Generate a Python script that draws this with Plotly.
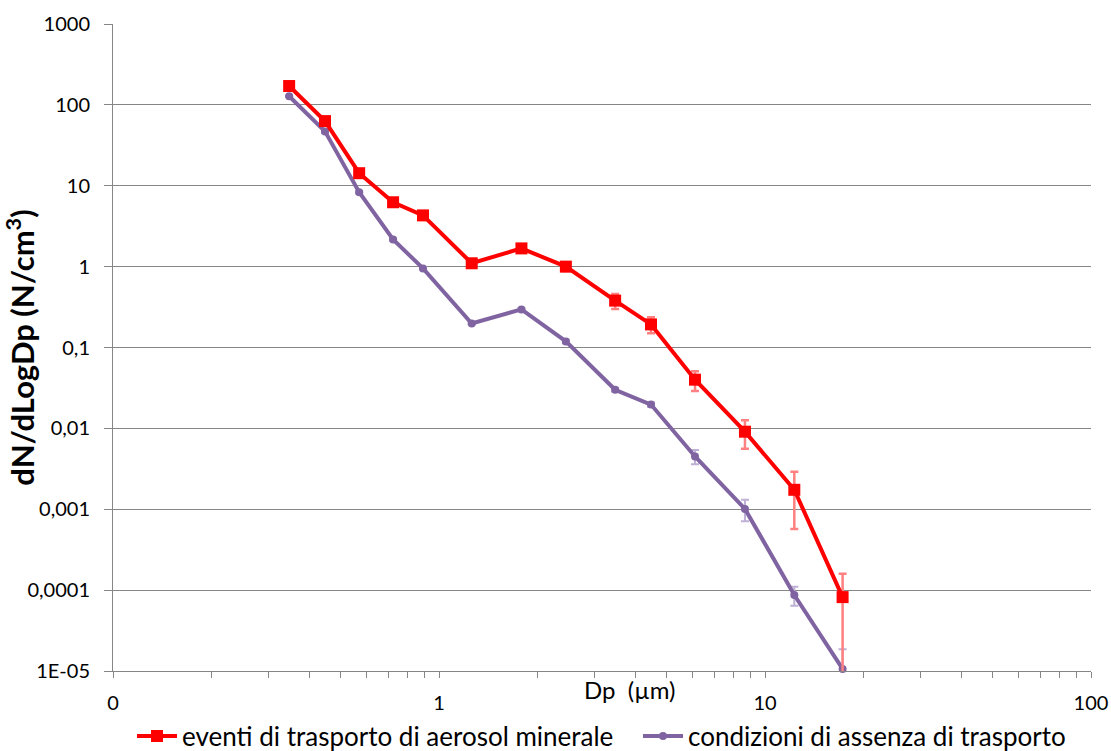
import plotly.graph_objects as go

dp = [0.347, 0.447, 0.569, 0.723, 0.893, 1.26, 1.79, 2.45, 3.47, 4.47, 6.1, 8.68, 12.3, 17.3]
eventi = [171, 63, 14.3, 6.25, 4.3, 1.1, 1.68, 1.0, 0.38, 0.193, 0.040, 0.0091, 0.00174, 0.000082]
eventi_err = [4, 2, 0.4, 0.2, 0.15, 0.04, 0.08, 0.12, 0.08, 0.043, 0.011, 0.0035, 0.00117, 0.000077]
assenza = [128, 47, 8.3, 2.17, 0.95, 0.198, 0.296, 0.119, 0.030, 0.0197, 0.0045, 0.00101, 0.000087, 0.0000106]
assenza_err = [3, 2, 0.3, 0.08, 0.03, 0.006, 0.01, 0.006, 0.0015, 0.0012, 0.0009, 0.0003, 0.000023, 0.000008]

name_red = "eventi di trasporto di aerosol minerale"
name_purple = "condizioni di assenza di trasporto"

y_tickvals = [1e-5, 1e-4, 1e-3, 1e-2, 1e-1, 1, 10, 100, 1000]
y_ticktext = ["1E-05", "0,0001", "0,001", "0,01", "0,1", "1", "10", "100", "1000"]

x_major = {0.1: "0", 1: "1", 10: "10", 100: "100"}
x_tickvals = []
x_ticktext = []
for dec in [0.1, 1, 10]:
    for m in range(1, 10):
        v = round(dec * m, 6)
        x_tickvals.append(v)
        x_ticktext.append(x_major.get(v, ""))
x_tickvals.append(100)
x_ticktext.append("100")

FONT = "Lato"
GRID = "#868686"

fig = go.Figure()
fig.add_trace(go.Scatter(
    x=dp, y=assenza, name=name_purple, mode="lines+markers", legend="legend2",
    line=dict(color="#8064A2", width=4),
    marker=dict(symbol="circle", size=8, color="#8064A2"),
    error_y=dict(type="data", array=assenza_err, color="#BFB0D6", thickness=2, width=4),
    cliponaxis=False,
))
fig.add_trace(go.Scatter(
    x=dp, y=eventi, name=name_red, mode="lines+markers", legend="legend",
    line=dict(color="#FF0000", width=4),
    marker=dict(symbol="square", size=12, color="#FF0000"),
    error_y=dict(type="data", array=eventi_err, color="#FF8080", thickness=2.5, width=4),
    cliponaxis=False,
))

legend_common = dict(orientation="h", xref="container", xanchor="left",
                     y=1 - 736 / 751, yanchor="middle", yref="container",
                     font=dict(size=26), itemwidth=40, bgcolor="rgba(0,0,0,0)")

fig.update_layout(
    width=1111, height=751,
    margin=dict(l=113, r=20, t=24, b=80, autoexpand=False),
    plot_bgcolor="white", paper_bgcolor="white",
    font=dict(family=FONT, size=20, color="#000000"),
    legend=dict(x=132 / 1111, **legend_common),
    legend2=dict(x=638 / 1111, **legend_common),
    xaxis=dict(type="log", range=[-1, 2], tickvals=x_tickvals, ticktext=x_ticktext,
               ticks="outside", ticklen=6, tickcolor=GRID, showline=True, linecolor=GRID,
               linewidth=1, showgrid=False, zeroline=False, ticklabelstandoff=8,
               tickfont=dict(size=20), automargin=False),
    yaxis=dict(type="log", range=[-5, 3], tickvals=y_tickvals, ticktext=y_ticktext,
               ticks="outside", ticklen=8, tickcolor=GRID, showline=True, linecolor=GRID,
               linewidth=1, showgrid=True, gridcolor=GRID, gridwidth=1, zeroline=False,
               ticklabelstandoff=10, tickfont=dict(size=20), automargin=False,
               title=dict(text="<b>dN/dLogDp (N/cm<sup>3</sup>)</b>", font=dict(size=31), standoff=8)),
    showlegend=True,
)
fig.add_annotation(text="Dp  (µm)", xref="paper", yref="paper", x=0.5286, y=-0.029,
                   xanchor="center", yanchor="middle", showarrow=False, font=dict(size=24))

fig.write_html("out.html")
